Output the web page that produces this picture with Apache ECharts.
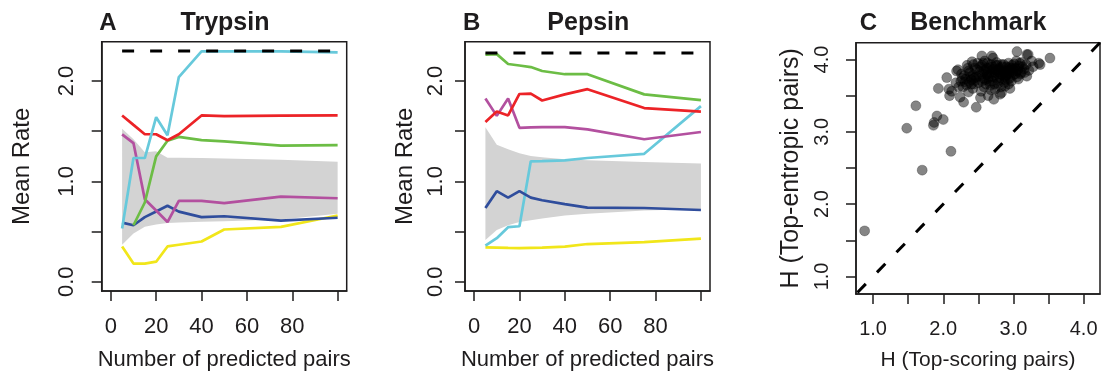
<!DOCTYPE html>
<html>
<head>
<meta charset="utf-8">
<script src="https://cdn.jsdelivr.net/npm/echarts@6/dist/echarts.min.js"></script>
<style>
html, body { margin: 0; padding: 0; background: #fff; }
#chart { width: 1102px; height: 376px; }
</style>
</head>
<body>
<div id="chart"></div>
<script>
// x positions shared by panels A and B
const nPairs = [5, 10, 15, 20, 25, 30, 40, 50, 75, 100];

// A: Trypsin
const cyanA   = [0.53, 1.233, 1.233, 1.64, 1.46, 2.04, 2.295, 2.295, 2.295, 2.285];
const redA    = [1.657, 1.563, 1.47, 1.47, 1.41, 1.47, 1.657, 1.65, 1.655, 1.657];
const greenA  = [null, 0.563, 0.79, 1.249, 1.405, 1.443, 1.411, 1.398, 1.356, 1.362];
const purpleA = [1.469, 1.382, 0.822, 0.71, 0.595, 0.806, 0.806, 0.783, 0.848, 0.832];
const blueA   = [0.589, 0.563, 0.644, 0.70, 0.757, 0.699, 0.644, 0.653, 0.609, 0.638];
const yellowA = [0.352, 0.181, 0.181, 0.2, 0.352, 0.369, 0.401, 0.521, 0.547, 0.66];
const bandHiA = [1.524, 1.42, 1.29, 1.30, 1.236, 1.235, 1.232, 1.228, 1.215, 1.197];
const bandLoA = [0.369, 0.482, 0.547, 0.57, 0.585, 0.59, 0.597, 0.602, 0.621, 0.677];
const refA    = [2.3, 2.3];

// B: Pepsin
const greenB  = [2.262, 2.268, 2.17, 2.155, 2.139, 2.10, 2.068, 2.068, 1.867, 1.809];
const redB    = [1.592, 1.696, 1.657, 1.871, 1.874, 1.806, 1.867, 1.919, 1.731, 1.696];
const purpleB = [1.825, 1.653, 1.825, 1.534, 1.538, 1.54, 1.54, 1.518, 1.42, 1.492];
const cyanB   = [0.359, 0.434, 0.544, 0.553, 1.2, 1.203, 1.21, 1.233, 1.275, 1.75];
const blueB   = [0.735, 0.903, 0.838, 0.903, 0.838, 0.812, 0.773, 0.738, 0.735, 0.715];
const yellowB = [0.343, 0.34, 0.337, 0.336, 0.338, 0.34, 0.35, 0.376, 0.395, 0.43];
const bandHiB = [1.54, 1.366, 1.32, 1.28, 1.252, 1.24, 1.22, 1.21, 1.194, 1.178];
const bandLoB = [0.417, 0.515, 0.563, 0.595, 0.612, 0.63, 0.66, 0.677, 0.709, 0.725];
const refB    = [2.28, 2.28];
const refX    = [5, 100];

// C: Benchmark, [H top-scoring, H top-entropic]
const benchmark = [
  [0.88,1.63],[1.48,3.05],[1.61,3.36],[1.70,2.47],[2.11,2.73],[1.86,3.09],[1.87,3.13],
  [1.91,3.22],[2.00,3.17],[1.93,3.60],[2.05,3.75],[3.52,4.02],
  [2.08,3.59],[2.09,3.50],[2.19,3.84],[2.29,3.41],[2.47,3.34],[2.43,3.93],[2.55,4.05],
  [2.71,4.02],[2.64,3.50],[2.81,3.52],[2.88,3.63],[3.05,4.11],[3.19,4.07],[3.26,3.98],
  [3.38,3.93],[3.19,3.77],[3.07,3.73],[3.36,3.95],[3.21,4.07],[2.24,3.48],[2.12,3.56],
  [2.21,3.86],[2.69,4.05],[2.83,3.54],[3.10,3.80],[2.36,3.55],[2.53,3.47],[2.72,3.45],
  [2.95,3.60],
  [2.25,3.70],[2.30,3.78],[2.33,3.65],[2.38,3.82],[2.40,3.72],[2.42,3.60],[2.45,3.88],
  [2.47,3.76],[2.50,3.68],[2.52,3.83],[2.55,3.92],[2.57,3.74],[2.58,3.62],[2.60,3.86],
  [2.62,3.79],[2.63,3.95],[2.65,3.70],[2.67,3.84],[2.68,3.58],[2.70,3.90],[2.72,3.76],
  [2.73,3.66],[2.75,3.85],[2.76,3.96],[2.78,3.80],[2.79,3.71],[2.80,3.88],[2.82,3.62],
  [2.83,3.93],[2.85,3.78],[2.86,3.85],[2.88,3.72],[2.90,3.90],[2.91,3.81],[2.93,3.95],
  [2.95,3.74],[2.96,3.86],[2.98,3.92],[3.00,3.79],[3.02,3.88],[3.04,3.98],[3.06,3.84],
  [3.08,3.91],[3.12,3.96],[3.15,3.87],[3.18,3.93],[3.22,3.85],[3.28,3.90],[2.28,3.62],
  [2.35,3.88],[2.44,3.66],[2.49,3.95],[2.54,3.56],[2.59,3.98],[2.61,3.66],[2.66,3.89],
  [2.74,3.59],[2.77,3.92],[2.81,3.75],[2.87,3.68],[2.92,3.84],[2.97,3.70],[3.01,3.94],
  [3.05,3.76],[2.39,3.76],[2.56,3.80],[2.69,3.81],[2.84,3.82],[2.99,3.83],[2.31,3.69],
  [2.46,3.71],[2.64,3.74],[2.71,3.87],[2.89,3.77],[2.94,3.89],[3.11,3.82],[2.18,3.68],
  [2.22,3.62],[2.26,3.80],[2.34,3.92],[2.41,3.97],
  [2.32,3.73],[2.37,3.69],[2.43,3.79],[2.48,3.86],[2.51,3.77],[2.53,3.90],[2.58,3.84],
  [2.60,3.72],[2.63,3.81],[2.66,3.77],[2.68,3.93],[2.70,3.70],[2.74,3.82],[2.77,3.74],
  [2.79,3.86],[2.82,3.80],[2.84,3.90],[2.87,3.83],[2.90,3.79],[2.92,3.73],[2.94,3.81],
  [2.97,3.88],[3.00,3.85],[3.03,3.80],[3.07,3.87],[3.13,3.90],[2.36,3.84],[2.44,3.74],
  [2.57,3.95],[2.62,3.88],[2.75,3.92],[2.86,3.93],[3.09,3.95],[3.16,3.82],[2.27,3.74],
  [2.40,3.66],[2.55,3.70],[2.67,3.64],[2.78,3.67],[2.93,3.66]
];
const diagonal = [[0.5, 0.5], [4.5, 4.5]];

// ticks
const pairTicks  = [0, 20, 40, 60, 80, 100];
const pairLabels = [0, 20, 40, 60, 80];
const rateTicks  = [0, 0.5, 1, 1.5, 2];
const rateLabels = [0, 1, 2];
const hTicks     = [1, 1.5, 2, 2.5, 3, 3.5, 4];
const hLabels    = [1, 2, 3, 4];

const FONT = '"Liberation Sans", Arial, Helvetica, sans-serif';
const INK = '#1e1c1d';
const COL = { cyan: '#67c9db', red: '#ec2327', green: '#6cbd45', purple: '#b3509f',
              blue: '#2f4d9c', yellow: '#f1e61a', band: '#d3d3d3' };

function pairs(xs, ys) { return xs.map((x, i) => [x, ys[i]]); }

function axisBase(gi, min, max, ticks, labels, size, margin) {
  return {
    gridIndex: gi, type: 'value', min: min, max: max,
    splitLine: { show: false },
    axisLine: { show: true, onZero: false, lineStyle: { color: INK, width: 1.5 } },
    axisTick: { show: true, customValues: ticks, length: 10, lineStyle: { color: INK, width: 1.5 } },
    axisLabel: { customValues: labels, margin: margin, fontSize: size, color: INK, fontFamily: FONT },
    nameLocation: 'middle',
    nameTextStyle: { color: INK, fontFamily: FONT }
  };
}

function xRate(gi) {
  const a = axisBase(gi, -4, 104, pairTicks, pairLabels, 22, 25);
  a.name = 'Number of predicted pairs';
  a.nameGap = 58;
  a.nameTextStyle.fontSize = 22;
  return a;
}
function yRate(gi, margin, gap) {
  const a = axisBase(gi, -0.092, 2.392, rateTicks, rateLabels, 22, margin);
  a.axisLabel.rotate = 90;
  a.axisLabel.formatter = v => v.toFixed(1);
  a.name = 'Mean Rate';
  a.nameGap = gap;
  a.nameTextStyle.fontSize = 24;
  return a;
}

function line(gi, ys, color) {
  return {
    type: 'line', xAxisIndex: gi, yAxisIndex: gi, data: pairs(nPairs, ys),
    symbol: 'none', lineStyle: { color: color, width: 2.7 }, itemStyle: { color: color },
    z: 3
  };
}
// grey envelope drawn as one polygon through the axis scales
function band(gi, lo, hi) {
  return {
    type: 'custom', xAxisIndex: gi, yAxisIndex: gi, data: [0], z: 1,
    renderItem: function (params, api) {
      const top = nPairs.map((x, i) => api.coord([x, hi[i]]));
      const bottom = nPairs.map((x, i) => api.coord([x, lo[i]])).reverse();
      return { type: 'polygon', shape: { points: top.concat(bottom) }, style: { fill: COL.band } };
    }
  };
}
function dashed(gi, data) {
  return { type: 'line', xAxisIndex: gi, yAxisIndex: gi, data: data, symbol: 'none',
    lineStyle: { color: '#000', width: 3, type: [12, 16] }, z: 4 };
}

function label(x, text, size) {
  return { type: 'text', x: x, y: 23, z: 10,
    style: { text: text, font: 'bold ' + size + 'px ' + FONT, fill: INK,
      align: 'center', verticalAlign: 'middle', textAlign: 'center', textVerticalAlign: 'middle' } };
}

const xH = axisBase(2, 0.757, 4.233, hTicks, hLabels, 20, 25);
xH.axisLabel.formatter = v => v.toFixed(1);
xH.name = 'H (Top-scoring pairs)';
xH.nameGap = 56;
xH.nameTextStyle.fontSize = 21;
const yH = axisBase(2, 0.757, 4.233, hTicks, hLabels, 20, 24);
yH.axisLabel.rotate = 90;
yH.axisLabel.formatter = v => v.toFixed(1);
yH.name = 'H (Top-entropic pairs)';
yH.nameGap = 52;
yH.nameTextStyle.fontSize = 25;

const gridStyle = { show: true, borderColor: INK, borderWidth: 1.5, backgroundColor: 'transparent' };

const option = {
  animation: false,
  backgroundColor: '#fff',
  grid: [
    Object.assign({ left: 101.7, top: 41.7, width: 245, height: 255.6 }, gridStyle),
    Object.assign({ left: 465, top: 41.7, width: 245, height: 255.6 }, gridStyle),
    Object.assign({ left: 856, top: 42.7, width: 244, height: 254 }, gridStyle)
  ],
  xAxis: [xRate(0), xRate(1), xH],
  yAxis: [yRate(0, 24, 67), yRate(1, 18, 48), yH],
  graphic: [
    label(108, 'A', 24), label(225, 'Trypsin', 25),
    label(471.7, 'B', 24), label(588.3, 'Pepsin', 25),
    label(868.3, 'C', 24), label(978.3, 'Benchmark', 25)
  ],
  series: [
    band(0, bandLoA, bandHiA),
    line(0, yellowA, COL.yellow), line(0, blueA, COL.blue), line(0, purpleA, COL.purple),
    line(0, greenA, COL.green), line(0, redA, COL.red), line(0, cyanA, COL.cyan),
    dashed(0, pairs(refX, refA)),
    band(1, bandLoB, bandHiB),
    line(1, yellowB, COL.yellow), line(1, cyanB, COL.cyan), line(1, blueB, COL.blue),
    line(1, purpleB, COL.purple), line(1, redB, COL.red), line(1, greenB, COL.green),
    dashed(1, pairs(refX, refB)),
    { type: 'scatter', xAxisIndex: 2, yAxisIndex: 2, data: benchmark, symbolSize: 10,
      itemStyle: { color: 'rgba(0,0,0,0.6)', borderColor: 'rgba(0,0,0,0.3)', borderWidth: 1 }, z: 3 },
    dashed(2, diagonal)
  ]
};

const myChart = echarts.init(document.getElementById('chart'));
myChart.setOption(option);
</script>
</body>
</html>
